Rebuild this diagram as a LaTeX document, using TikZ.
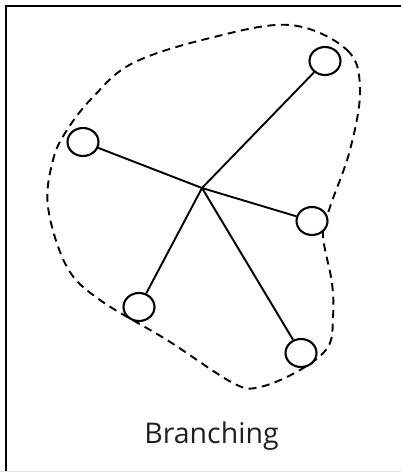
\documentclass[tikz,border=0pt]{standalone}
\usepackage{fontspec}
\setmainfont{Open Sans}
\usetikzlibrary{shapes.geometric}
\definecolor{inkgray}{HTML}{231F20}
\begin{document}
\begin{tikzpicture}[x=1pt,y=-1pt,
  leaf/.style={draw,ellipse,fill=white,line width=2.1pt,minimum width=31pt,minimum height=28pt,inner sep=0pt},
  branch/.style={line width=1.9pt},
  blob/.style={line width=1.9pt,dash pattern=on 8pt off 5.5pt}]
\useasboundingbox (0,0) rectangle (401,472);
\coordinate (fbl) at (6,472);
\coordinate (ftl) at (6,6);
\coordinate (ftr) at (401,6);
\draw[line width=2.4pt] (fbl) -- (ftl) -- (ftr);
\draw[line width=0.6pt,black!12] (0,471.5) -- (401,471.5);
\draw[blob] plot[smooth cycle,tension=0.6] coordinates {
 (290,25) (347,50) (360,90) (350,150) (330,207) (323,235) (332,283) (333,317)
 (328,347) (300,370) (260,387) (233,383) (167,340) (100,300) (67,267) (48,207)
 (53,160) (67,130) (93,97) (133,63) (210,38)};
\coordinate (hub) at (202,188);
\node[leaf] (a) at (325,61) {};
\node[leaf] (b) at (83,142) {};
\node[leaf] (c) at (312,221) {};
\node[leaf] (d) at (139,307) {};
\node[leaf] (e) at (301,353) {};
\draw[branch] (hub) -- (a);
\draw[branch] (hub) -- (b);
\draw[branch] (hub) -- (c);
\draw[branch] (hub) -- (d);
\draw[branch] (hub) -- (e);
\node[text=inkgray,font=\fontsize{28.5}{32}\selectfont,anchor=base,inner sep=0pt] (t) at (211.5,443) {Branching};
\end{tikzpicture}
\end{document}
